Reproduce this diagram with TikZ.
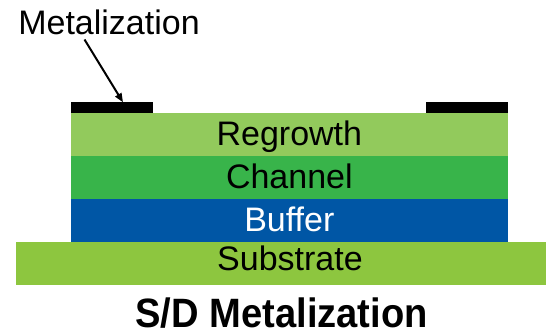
\documentclass[tikz,border=0pt]{standalone}
\usepackage{fontspec}
\setmainfont{Liberation Sans}
\newfontfamily\titlefont[FakeStretch=0.93]{Liberation Sans Bold}
\usetikzlibrary{positioning,arrows.meta}

\definecolor{regrowthgreen}{HTML}{92CA5C}
\definecolor{channelgreen}{HTML}{38B44A}
\definecolor{bufferblue}{HTML}{0056A5}
\definecolor{substrategreen}{HTML}{8DC63F}

\tikzset{
  layer/.style={rectangle, inner sep=0pt, outer sep=0pt, minimum height=43pt,
    font=\fontsize{34}{40}\selectfont, text height=22pt, text depth=0pt},
  pad/.style={rectangle, fill=black, inner sep=0pt, outer sep=0pt,
    minimum width=82pt, minimum height=11pt},
}

\begin{document}
\begin{tikzpicture}[x=1pt, y=-1pt]
  \useasboundingbox (0,0) rectangle (546,335);

  \node[layer, fill=regrowthgreen, minimum width=437.3pt] (regrowth) at (289.35,134.8) {Regrowth};
  \node[layer, fill=channelgreen, minimum width=437.3pt, below=0pt of regrowth] (channel) {Channel};
  \node[layer, fill=bufferblue, text=white, minimum width=437.3pt, below=0pt of channel] (buffer) {Buffer};
  \node[layer, fill=substrategreen, minimum width=530pt] (substrate) at (281,263.5) {};
  \node[font=\fontsize{34}{40}\selectfont, anchor=base] (subtext) at (290,270) {Substrate};

  \node[pad] (leftpad) at (111.5,107.8) {};
  \node[pad] (rightpad) at (466.9,107.8) {};

  \node[font=\fontsize{34}{40}\selectfont, anchor=base] (metaltext) at (109,34.3) {Metalization};
  \coordinate (tail) at (84.5,39.5);
  \draw[line width=2pt, -{Triangle[length=9pt,width=7pt]}] (tail) -- ([xshift=11.5pt]leftpad.north);

  \node[font=\titlefont\fontsize{41}{48}\selectfont, anchor=base] (title) at (281.7,327.7) {S/D Metalization};
\end{tikzpicture}
\end{document}
